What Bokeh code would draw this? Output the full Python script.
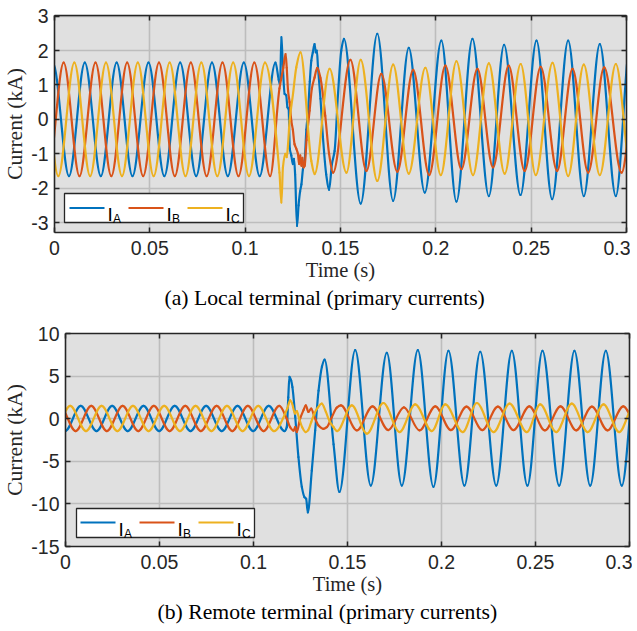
import numpy as np
from bokeh.plotting import figure
from bokeh.models import Range1d, FixedTicker, LinearAxis, Title, ColumnDataSource
from bokeh.core.properties import value
from bokeh.embed import file_html
from bokeh.resources import INLINE

# ---------------- data (waveform extrema / transient points) -------------
x_ticks = [0, 0.05, 0.1, 0.15, 0.2, 0.25, 0.3]
x_labels = ["0", "0.05", "0.1", "0.15", "0.2", "0.25", "0.3"]
y_ticks_top = [-3, -2, -1, 0, 1, 2, 3]
y_ticks_bot = [-15, -10, -5, 0, 5, 10]
series_names = ["A", "B", "C"]

# (a) local terminal
t_top_a = [-0.0008, 0.0076, 0.0159, 0.0243, 0.0326, 0.0409, 0.0493, 0.0576, 0.0659, 0.0743, 0.0826, 0.0909,
           0.0993, 0.1076, 0.1159, 0.1176, 0.1183, 0.1190, 0.1197, 0.1207, 0.1215, 0.1222, 0.1228, 0.1234,
           0.1242, 0.1250, 0.1256, 0.1262, 0.1272, 0.1280, 0.1288, 0.1295, 0.1303, 0.1312, 0.1321, 0.1330,
           0.1339, 0.1347, 0.1355, 0.1364, 0.1370, 0.1376, 0.1382, 0.1395, 0.1408, 0.1425, 0.1440, 0.1455,
           0.1469, 0.1487, 0.1504, 0.1518, 0.1606, 0.1693, 0.1776, 0.1858, 0.1942, 0.2029, 0.2108, 0.2192,
           0.2278, 0.2358, 0.2444, 0.2528, 0.2610, 0.2694, 0.2776, 0.2860, 0.2944, 0.3020]
i_top_a = [1.65, -1.65, 1.65, -1.65, 1.65, -1.65, 1.65, -1.65, 1.65, -1.65, 1.65, -1.65,
           1.65, -1.65, 1.65, 1.15, 1.0, 2.39, 1.6, 0.74, 0.70, 0.35, 0.30, -0.85,
           -1.05, -1.30, -1.15, -1.6, -3.10, -2.5, -2.1, -1.89, -1.45, -1.21, -0.3, 0.25,
           1.1, 1.71, 1.95, 2.19, 1.95, 2.0, 1.51, 0.6, -0.53, -1.6, -2.05, -1.3,
           -0.92, 0.74, 2.0, 2.34, -2.45, 2.49, -2.37, 2.08, -2.13, 2.29, -2.39, 2.34,
           -2.23, 2.17, -2.20, 2.29, -2.32, 2.29, -2.23, 2.19, -2.23, 2.2]

t_top_b = [-0.0035, 0.0048, 0.0131, 0.0215, 0.0298, 0.0381, 0.0465, 0.0548, 0.0631, 0.0715, 0.0798, 0.0881,
           0.0965, 0.1048, 0.1131, 0.1180, 0.1200, 0.1212, 0.1218, 0.1225, 0.1233, 0.1242, 0.1250, 0.1259,
           0.1268, 0.1277, 0.1283, 0.1289, 0.1295, 0.1300, 0.1306, 0.1312, 0.1322, 0.1338, 0.1350, 0.1364,
           0.1378, 0.1395, 0.1420, 0.1440, 0.1461, 0.1552, 0.1636, 0.1714, 0.1798, 0.1881, 0.1965, 0.2050,
           0.2134, 0.2218, 0.2300, 0.2382, 0.2466, 0.2550, 0.2636, 0.2717, 0.2799, 0.2883, 0.2974, 0.3057]
i_top_b = [-1.65, 1.65, -1.65, 1.65, -1.65, 1.65, -1.65, 1.65, -1.65, 1.65, -1.65, 1.65,
           -1.65, 1.65, -1.65, 0.9, 1.5, 1.90, 1.5, 0.83, 0.5, -0.04, -0.3, -0.72,
           -0.85, -1.01, -1.3, -1.05, -1.35, -1.12, -1.4, -1.35, -0.6, 0.25, 0.9, 1.22,
           1.5, 1.2, 0.1, -1.0, -1.55, 1.73, -1.50, 1.32, -1.52, 1.44, -1.62, 1.56,
           -1.45, 1.47, -1.40, 1.56, -1.50, 1.53, -1.50, 1.47, -1.55, 1.51, -1.55, 1.5]

t_top_c = [-0.0063, 0.0020, 0.0104, 0.0187, 0.0270, 0.0354, 0.0437, 0.0520, 0.0604, 0.0687, 0.0770, 0.0854,
           0.0937, 0.1020, 0.1104, 0.1180, 0.1190, 0.1198, 0.1210, 0.1218, 0.1225, 0.1233, 0.1251, 0.1268,
           0.1290, 0.1347, 0.1364, 0.1443, 0.1531, 0.1606, 0.1693, 0.1776, 0.1858, 0.1945, 0.2026, 0.2108,
           0.2195, 0.2278, 0.2361, 0.2445, 0.2524, 0.2612, 0.2694, 0.2776, 0.2860, 0.2944, 0.3027]
i_top_c = [1.65, -1.65, 1.65, -1.65, 1.65, -1.65, 1.65, -1.65, 1.65, -1.65, 1.65, -1.65,
           1.65, -1.65, 1.65, -1.55, -2.42, -1.40, -1.0, -1.1, -0.72, -0.04, 0.74, 1.51,
           1.95, -1.21, -1.59, 1.47, -1.55, 1.73, -1.79, 1.59, -1.58, 1.50, -1.62, 1.69,
           -1.62, 1.63, -1.58, 1.61, -1.62, 1.64, -1.65, 1.59, -1.62, 1.61, -1.62]

# (b) remote terminal
t_bot_a = [-0.0002, 0.0081, 0.0165, 0.0248, 0.0331, 0.0415, 0.0498, 0.0581, 0.0665, 0.0748, 0.0831, 0.0915,
           0.0998, 0.1081, 0.1165, 0.1177, 0.1185, 0.1191, 0.1200, 0.1207, 0.1222, 0.1239, 0.1257, 0.1271,
           0.1280, 0.1289, 0.1310, 0.1328, 0.1346, 0.1364, 0.1378, 0.1426, 0.1457, 0.1541, 0.1624, 0.1709,
           0.1789, 0.1874, 0.1957, 0.2037, 0.2122, 0.2206, 0.2291, 0.2374, 0.2457, 0.2537, 0.2626, 0.2707,
           0.2791, 0.2874, 0.2959, 0.3042]
i_bot_a = [-1.45, 1.5, -1.45, 1.5, -1.45, 1.5, -1.45, 1.5, -1.45, 1.5, -1.45, 1.5,
           -1.45, 1.5, -1.45, -0.99, 2.5, 4.9, 4.5, 3.7, 0.2, -4.5, -8.0, -9.2,
           -9.4, -11.0, -6.1, -1.4, 3.3, 6.1, 6.94, -3.0, -8.6, 8.04, -7.85, 7.72,
           -7.85, 8.04, -8.0, 7.96, -7.85, 7.86, -7.85, 7.96, -7.85, 7.96, -7.85, 7.96,
           -7.85, 7.96, -7.85, 7.95]

t_bot_b = [-0.0030, 0.0054, 0.0137, 0.0220, 0.0304, 0.0387, 0.0470, 0.0554, 0.0637, 0.0720, 0.0804, 0.0887,
           0.0970, 0.1054, 0.1137, 0.1177, 0.1195, 0.1213, 0.1222, 0.1230, 0.1248, 0.1266, 0.1278, 0.1292,
           0.1307, 0.1324, 0.1346, 0.1372, 0.1390, 0.1417, 0.1443, 0.1465, 0.1550, 0.1633, 0.1717, 0.1800,
           0.1883, 0.1967, 0.2050, 0.2133, 0.2217, 0.2300, 0.2383, 0.2467, 0.2550, 0.2633, 0.2717, 0.2800,
           0.2883, 0.2967, 0.3050]
i_bot_b = [1.5, -1.45, 1.5, -1.45, 1.5, -1.45, 1.5, -1.45, 1.5, -1.45, 1.5, -1.45,
           1.5, -1.45, 1.5, 0.0, -1.0, -1.4, -1.0, -1.57, 0.0, 1.0, 1.56, 0.8,
           1.2, 0.2, -0.8, -1.2, -1.0, 0.2, 1.3, 1.56, -1.37, 1.45, -1.33, 1.33,
           -1.37, 1.45, -1.34, 1.41, -1.34, 1.41, -1.34, 1.45, -1.37, 1.45, -1.37, 1.41,
           -1.37, 1.45, -1.34]

t_bot_c = [-0.0058, 0.0025, 0.0109, 0.0192, 0.0276, 0.0359, 0.0442, 0.0525, 0.0609, 0.0692, 0.0776, 0.0859,
           0.0942, 0.1025, 0.1109, 0.1180, 0.1195, 0.1205, 0.1221, 0.1230, 0.1243, 0.1259, 0.1278, 0.1290,
           0.1307, 0.1324, 0.1342, 0.1363, 0.1385, 0.1403, 0.1426, 0.1445, 0.1523, 0.1603, 0.1691, 0.1777,
           0.1860, 0.1949, 0.2020, 0.2113, 0.2188, 0.2277, 0.2362, 0.2454, 0.2525, 0.2610, 0.2693, 0.2778,
           0.2862, 0.2945, 0.3028]
i_bot_c = [-1.45, 1.5, -1.45, 1.5, -1.45, 1.5, -1.45, 1.5, -1.45, 1.5, -1.45, 1.5,
           -1.45, 1.5, -1.45, 1.2, 2.15, 1.8, 0.6, 0.9, 0.0, -1.0, -1.57, -1.37,
           -0.4, 0.6, 1.3, 1.76, 0.8, -0.2, -1.0, -1.45, 1.56, -1.76, 1.84, -1.57,
           1.68, -1.45, 1.68, -1.57, 1.84, -1.57, 1.76, -1.57, 1.68, -1.57, 1.76, -1.57,
           1.68, -1.57, 1.76]

# ---------------- style ----------------
COLORS = ["#0072BD", "#D95319", "#EDB120"]
AX = "#262626"
BG = "#E0E0E0"
GRID = "#BDBDBD"
LW = 2.2


def bezier_source(ts, vs):
    """Smooth curve through the read points (monotone-cubic tangents), drawn by Bokeh's bezier glyph."""
    t = np.asarray(ts, float)
    v = np.asarray(vs, float)
    h = np.diff(t)
    d = np.diff(v) / h
    m = np.zeros(len(t))
    for k in range(1, len(t) - 1):
        if d[k - 1] * d[k] > 0:
            w1 = 2 * h[k] + h[k - 1]
            w2 = h[k] + 2 * h[k - 1]
            m[k] = (w1 + w2) / (w1 / d[k - 1] + w2 / d[k])
    return ColumnDataSource(dict(
        x0=t[:-1], y0=v[:-1], x1=t[1:], y1=v[1:],
        cx0=t[:-1] + h / 3, cy0=v[:-1] + m[:-1] * h / 3,
        cx1=t[1:] - h / 3, cy1=v[1:] - m[1:] * h / 3))


def style_axis(ax, ticks, labels, show_labels=True, standoff=6, label_size="20.5px"):
    ax.ticker = FixedTicker(ticks=ticks)
    ax.major_label_overrides = {float(k): s for k, s in zip(ticks, labels)}
    ax.axis_line_color = AX
    ax.axis_line_width = 1.6
    ax.major_tick_line_color = AX
    ax.major_tick_line_width = 1.5
    ax.major_tick_in = 5
    ax.major_tick_out = 0
    ax.minor_tick_line_color = None
    ax.major_label_text_font = "Liberation Sans"
    if show_labels:
        ax.major_label_text_font_size = "19.5px"
        ax.major_label_standoff = standoff
        ax.major_label_text_color = AX
    else:
        ax.major_label_text_font_size = "1px"
        ax.major_label_standoff = 0
        ax.major_label_text_color = None
    ax.axis_label_text_font = "Liberation Serif"
    ax.axis_label_text_font_size = label_size
    ax.axis_label_text_font_style = "normal"
    ax.axis_label_text_color = AX
    ax.axis_label_standoff = 1


def make_panel(series, ylo, yhi, yticks, caption, fw, fh, bl, br, bt, bb, legend_px, cap_offset):
    p = figure(frame_width=fw, frame_height=fh, x_range=Range1d(0, 0.3), y_range=Range1d(ylo, yhi),
               output_backend="svg", toolbar_location=None,
               min_border_left=bl, min_border_right=br, min_border_top=bt, min_border_bottom=bb,
               background_fill_color=BG, border_fill_color="white", outline_line_color=None)
    ylabels = [str(v) for v in yticks]
    style_axis(p.xaxis[0], x_ticks, x_labels, standoff=8, label_size="20.5px")
    style_axis(p.yaxis[0], yticks, ylabels, standoff=6, label_size="21.5px")
    p.xaxis[0].axis_label = "Time (s)"
    p.yaxis[0].axis_label = "Current (kA)"
    top_ax = LinearAxis()
    style_axis(top_ax, x_ticks, x_labels, show_labels=False)
    p.add_layout(top_ax, "above")
    right_ax = LinearAxis()
    style_axis(right_ax, yticks, ylabels, show_labels=False)
    p.add_layout(right_ax, "right")

    p.xgrid.ticker = FixedTicker(ticks=x_ticks)
    p.ygrid.ticker = FixedTicker(ticks=yticks)
    for g in (p.xgrid[0], p.ygrid[0]):
        g.grid_line_color = GRID
        g.grid_line_width = 1.6

    for (ts, vs), col in zip(series, COLORS):
        p.bezier("x0", "y0", "x1", "y1", "cx0", "cy0", "cx1", "cy1", source=bezier_source(ts, vs),
                 line_color=col, line_width=LW, line_cap="round")

    # legend (pixel layout -> data units)
    def tx(px):
        return (px - legend_px["fx"]) / fw * 0.3

    def vy(py):
        return yhi - (py - legend_px["fy"]) / fh * (yhi - ylo)

    L = legend_px
    p.quad(left=[tx(L["box"][0])], right=[tx(L["box"][1])], top=[vy(L["box"][2])], bottom=[vy(L["box"][3])],
           fill_color="white", line_color=AX, line_width=1.3, level="overlay")
    for k, (name, col) in enumerate(zip(series_names, COLORS)):
        x0 = L["x"][k]
        p.segment(x0=[tx(x0)], y0=[vy(L["ly"])], x1=[tx(x0 + 35)], y1=[vy(L["ly"])],
                  line_color=col, line_width=LW, level="overlay")
        p.text(x=[tx(x0 + 38)], y=[vy(L["ly"] + 6.5)], text=["I"], text_font=value("Liberation Sans"),
               text_font_size="19px", text_baseline="alphabetic", text_align="left", text_color="black",
               level="overlay")
        p.text(x=[tx(x0 + 43.5)], y=[vy(L["ly"] + 11)], text=[name], text_font=value("Liberation Sans"),
               text_font_size="12px", text_baseline="alphabetic", text_align="left", text_color="black",
               level="overlay")

    cap = Title(text=caption, align="left", text_font="Liberation Serif", text_font_size="21.7px",
                text_font_style="normal", text_color="black", standoff=1, offset=cap_offset)
    p.add_layout(cap, "below")
    return p


top = make_panel([(t_top_a, i_top_a), (t_top_b, i_top_b), (t_top_c, i_top_c)],
                 -3.29, 3.02, y_ticks_top, "(a) Local terminal (primary currents)",
                 572, 217, 53, 4, 15, 86,
                 dict(fx=53, fy=15, box=(63, 242, 193, 222), ly=207.5, x=(68, 127, 186)), 110)
bot = make_panel([(t_bot_a, i_bot_a), (t_bot_b, i_bot_b), (t_bot_c, i_bot_c)],
                 -15, 10, y_ticks_bot, "(b) Remote terminal (primary currents)",
                 564, 213, 62, 3, 15, 85,
                 dict(fx=62, fy=333, box=(73, 251, 508, 537), ly=522, x=(77, 136, 195)), 92)

open("out.html", "w").write(file_html([top, bot], INLINE))
